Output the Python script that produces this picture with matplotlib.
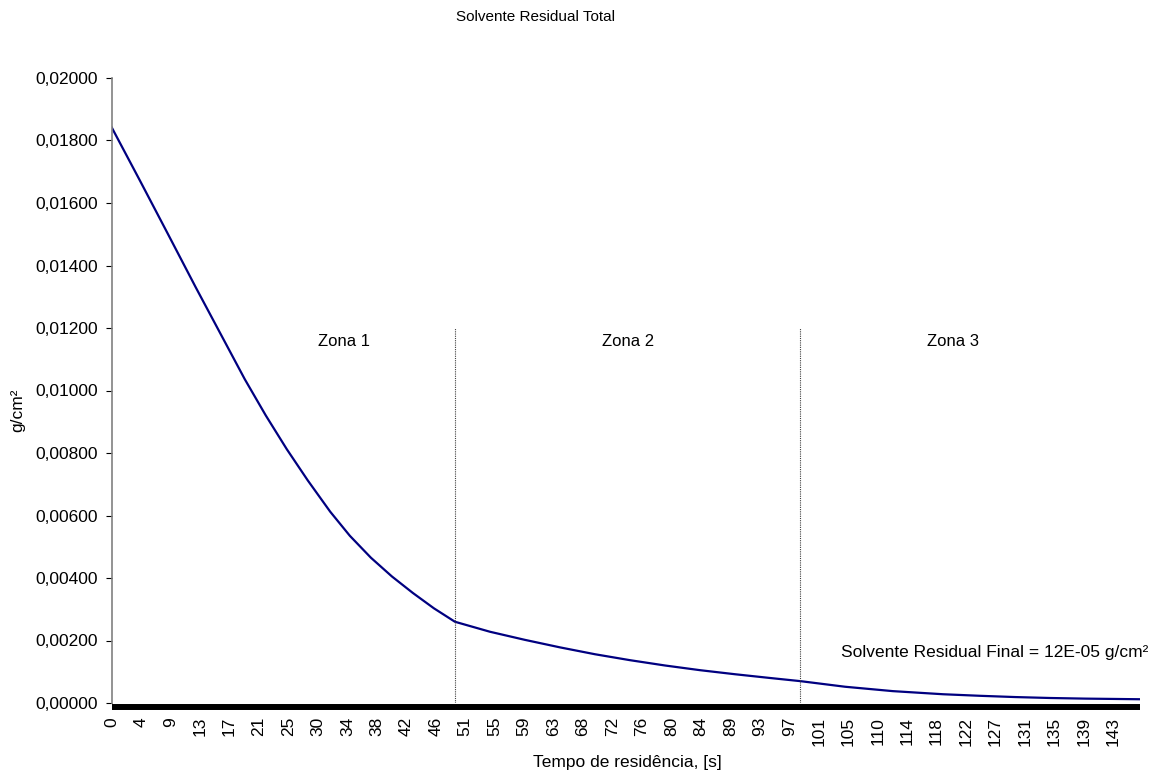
import matplotlib
matplotlib.use("Agg")
import matplotlib.pyplot as plt
import numpy as np
from matplotlib.ticker import FuncFormatter, FixedLocator

plt.rcParams['font.family'] = ['Liberation Sans', 'DejaVu Sans']

# ---- data ----
time_s = [0, 4, 8, 12, 15.5, 19, 22, 25, 28, 31.2, 34, 37, 40, 43, 46, 49,
          54, 59, 64, 69, 74, 79, 84, 89, 94, 98.3,
          104.7, 111.5, 118.7, 124, 129, 134, 139, 143, 146.8]
solvent = [0.01842, 0.01673, 0.01502, 0.01330, 0.01183, 0.01036, 0.00920, 0.00812,
           0.00712, 0.00612, 0.00535, 0.00465, 0.00405, 0.00352, 0.00303, 0.00260,
           0.00228, 0.00202, 0.00178, 0.00156, 0.00137, 0.00120, 0.00105, 0.00092,
           0.00080, 0.00070,
           0.00052, 0.00038, 0.00028, 0.00023, 0.00019, 0.00016, 0.00014, 0.00013, 0.00012]
tick_labels = ['0', '4', '9', '13', '17', '21', '25', '30', '34', '38', '42', '46', '51',
               '55', '59', '63', '68', '72', '76', '80', '84', '89', '93', '97', '101',
               '105', '110', '114', '118', '122', '127', '131', '135', '139', '143']
zone_bounds = [48.94, 98.27]
zone_names = ['Zona 1', 'Zona 2', 'Zona 3']
zone_label_x = [33.2, 73.7, 120.1]
zone_top = 0.012
x_max = 146.8

fig = plt.figure(figsize=(11.51, 7.73), dpi=100)
ax = fig.add_axes([111.7/1151, 1-703/773, (1140-111.7)/1151, (703-78)/773])

# spines first (set_position resets ticks)
for s in ['top', 'right']:
    ax.spines[s].set_visible(False)
ax.spines['left'].set_color('#808080')
ax.spines['left'].set_linewidth(1.2)
ax.spines['bottom'].set_color('black')
ax.spines['bottom'].set_linewidth(4.3)
ax.spines['bottom'].set_position(('outward', 3))
ax.spines['bottom'].set_capstyle('butt')

ax.plot(time_s, solvent, color='#000080', lw=1.6, solid_joinstyle='round')

for xb in zone_bounds:
    ax.vlines(xb, 0, zone_top, colors='#404040', linestyles=(0, (1, 1)), lw=0.8)
for name, xl in zip(zone_names, zone_label_x):
    ax.text(xl, 0.01158, name, ha='center', va='center', fontsize=12)

ax.text(147.97, 0.00163, 'Solvente Residual Final = 12E-05 g/cm²', ha='right',
        va='center', fontsize=12.5, clip_on=False)

ax.set_xlim(0, x_max)
ax.set_ylim(0, 0.02)

ticks_pos = np.linspace(0, float(tick_labels[-1]), len(tick_labels))
ax.xaxis.set_major_locator(FixedLocator(ticks_pos))
ax.set_xticklabels(tick_labels)
ax.set_yticks(np.arange(0, 0.02001, 0.002))
ax.yaxis.set_major_formatter(FuncFormatter(lambda v, p: f"{v:.5f}".replace('.', ',')))
ax.tick_params(axis='y', length=4.3, width=0.8, pad=5.5, labelsize=12.5, color='black')
ax.tick_params(axis='x', length=0, pad=7, labelrotation=90, labelsize=12.5)

fig.text(536/1151, 1-17/773, 'Solvente Residual Total', ha='center', va='center', fontsize=11)
fig.text(627/1151, 1-763/773, 'Tempo de residência, [s]', ha='center', va='center', fontsize=12.5)
fig.text(18/1151, 1-410/773, 'g/cm²', ha='center', va='center', rotation=90, fontsize=12.5)

fig.savefig('out.png', dpi=100)
